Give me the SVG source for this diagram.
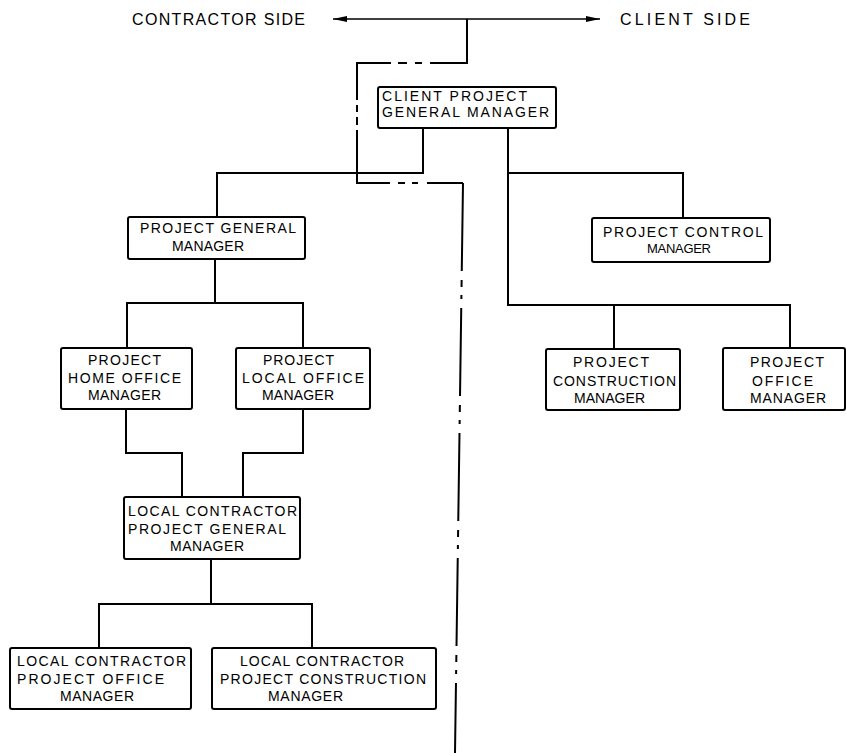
<svg xmlns="http://www.w3.org/2000/svg" width="846" height="753" viewBox="0 0 846 753">
<style>
.box{fill:#fff;stroke:#000;stroke-width:2}
.ln{fill:none;stroke:#000;stroke-width:2}
.dl{fill:none;stroke:#000;stroke-width:2}
text{font-family:"Liberation Sans",Arial,sans-serif;font-size:14px;fill:#000}
.hd{font-size:16px}
.sm{font-size:13px}
</style>
<defs>
<marker id="ah" viewBox="0 0 14 8" refX="14" refY="4" markerWidth="14" markerHeight="8" markerUnits="userSpaceOnUse" orient="auto-start-reverse">
<path d="M0,1 L14,4 L0,7 Z" fill="#000"/>
</marker>
</defs>
<rect width="846" height="753" fill="#fff"/>
<g id="headers">
<text class="hd" x="132" y="25" textLength="173" lengthAdjust="spacing">CONTRACTOR SIDE</text>
<text class="hd" x="620" y="25" textLength="130" lengthAdjust="spacing">CLIENT SIDE</text>
</g>
<g id="connectors">
<line x1="333" y1="19" x2="600" y2="19" stroke="#000" stroke-width="1.5" marker-start="url(#ah)" marker-end="url(#ah)"/>
<path class="ln" d="M467,19 V63 H430"/>
<path class="ln" d="M422,63 H415 M407,63 H398 M391,63 H357 V100 M357,105 V112 M357,117 V125 M357,130 V183 H390 M398,183 H405 M412,183 H418 M427,183 H463"/>
<path class="dl" d="M463,183 L455,753" stroke-dasharray="88 9 7 8 4 9" stroke-dashoffset="125"/>
<path class="ln" d="M423,128 V173 H217 V217"/>
<path class="ln" d="M508,128 V305 H790 V348"/>
<path class="ln" d="M508,173 H683 V218"/>
<path class="ln" d="M614,305 V349"/>
<path class="ln" d="M215,259 V303"/>
<path class="ln" d="M127,348 V303 H303 V348"/>
<path class="ln" d="M126,409 V453 H182 V497"/>
<path class="ln" d="M303,409 V453 H243 V497"/>
<path class="ln" d="M211,559 V604"/>
<path class="ln" d="M99,648 V604 H312 V648"/>
</g>
<g id="client-pgm">
<rect class="box" x="378" y="87" width="178" height="41" rx="2"/>
<text x="382" y="101" textLength="145" lengthAdjust="spacing">CLIENT PROJECT</text>
<text x="382" y="117" textLength="167" lengthAdjust="spacing">GENERAL MANAGER</text>
</g>
<g id="project-gm">
<rect class="box" x="128" y="217" width="177" height="42" rx="2"/>
<text x="140" y="233" textLength="156" lengthAdjust="spacing">PROJECT GENERAL</text>
<text x="172" y="251" textLength="72" lengthAdjust="spacing">MANAGER</text>
</g>
<g id="project-control">
<rect class="box" x="592" y="218" width="178" height="44" rx="2"/>
<text x="603" y="237" textLength="160" lengthAdjust="spacing">PROJECT CONTROL</text>
<text class="sm" x="647" y="253" textLength="64" lengthAdjust="spacing">MANAGER</text>
</g>
<g id="project-construction">
<rect class="box" x="546" y="349" width="134" height="61" rx="2"/>
<text x="573" y="367" textLength="76" lengthAdjust="spacing">PROJECT</text>
<text x="553" y="386" textLength="123" lengthAdjust="spacing">CONSTRUCTION</text>
<text x="574" y="403" textLength="71" lengthAdjust="spacing">MANAGER</text>
</g>
<g id="project-office">
<rect class="box" x="723" y="348" width="122" height="62" rx="2"/>
<text x="750" y="367" textLength="74" lengthAdjust="spacing">PROJECT</text>
<text x="752" y="386" textLength="61" lengthAdjust="spacing">OFFICE</text>
<text x="750" y="403" textLength="76" lengthAdjust="spacing">MANAGER</text>
</g>
<g id="project-home-office">
<rect class="box" x="61" y="348" width="131" height="61" rx="2"/>
<text x="88" y="365" textLength="73" lengthAdjust="spacing">PROJECT</text>
<text x="68" y="383" textLength="113" lengthAdjust="spacing">HOME OFFICE</text>
<text x="88" y="400" textLength="73" lengthAdjust="spacing">MANAGER</text>
</g>
<g id="project-local-office">
<rect class="box" x="236" y="348" width="134" height="61" rx="2"/>
<text x="263" y="365" textLength="71" lengthAdjust="spacing">PROJECT</text>
<text x="242" y="383" textLength="122" lengthAdjust="spacing">LOCAL OFFICE</text>
<text x="262" y="400" textLength="72" lengthAdjust="spacing">MANAGER</text>
</g>
<g id="local-contractor-pgm">
<rect class="box" x="124" y="497" width="176" height="62" rx="2"/>
<text x="128" y="516" textLength="169" lengthAdjust="spacing">LOCAL CONTRACTOR</text>
<text x="128" y="534" textLength="158" lengthAdjust="spacing">PROJECT GENERAL</text>
<text x="170" y="551" textLength="74" lengthAdjust="spacing">MANAGER</text>
</g>
<g id="local-contractor-office">
<rect class="box" x="10" y="648" width="181" height="61" rx="2"/>
<text x="17" y="666" textLength="169" lengthAdjust="spacing">LOCAL CONTRACTOR</text>
<text x="17" y="684" textLength="147" lengthAdjust="spacing">PROJECT OFFICE</text>
<text x="60" y="701" textLength="74" lengthAdjust="spacing">MANAGER</text>
</g>
<g id="local-contractor-construction">
<rect class="box" x="212" y="648" width="224" height="61" rx="2"/>
<text x="240" y="666" textLength="164" lengthAdjust="spacing">LOCAL CONTRACTOR</text>
<text x="220" y="684" textLength="206" lengthAdjust="spacing">PROJECT CONSTRUCTION</text>
<text x="268" y="701" textLength="75" lengthAdjust="spacing">MANAGER</text>
</g>
</svg>
